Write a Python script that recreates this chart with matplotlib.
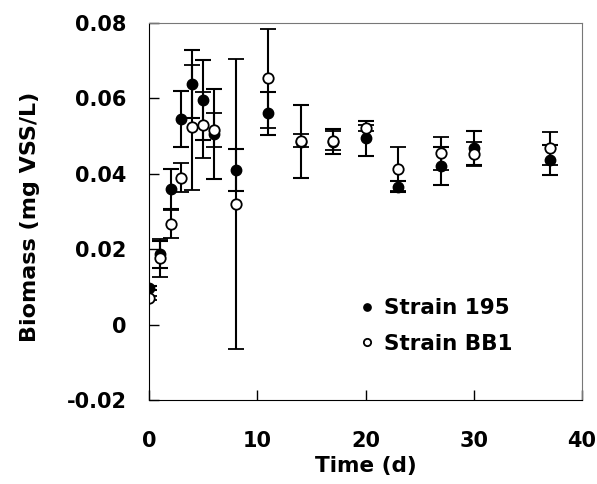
import matplotlib.pyplot as plt

plt.rcParams['font.family'] = ['DejaVu Sans']
plt.rcParams['font.weight'] = 'bold'

# Time points (d)
time = [0, 1, 2, 3, 4, 5, 6, 8, 11, 14, 17, 20, 23, 27, 30, 37]

# Strain 195 (filled)
s195 = [0.0097, 0.0187, 0.0360, 0.0545, 0.0638, 0.0596, 0.0505, 0.0410,
        0.0560, 0.0485, 0.0485, 0.0494, 0.0366, 0.0421, 0.0468, 0.0437]
s195_err = [0.0005, 0.0036, 0.0054, 0.0075, 0.0090, 0.0106, 0.0120, 0.0055,
            0.0056, 0.0097, 0.0033, 0.0047, 0.0015, 0.0050, 0.0045, 0.0040]

# Strain BB1 (open)
bb1 = [0.0071, 0.0176, 0.0267, 0.0390, 0.0523, 0.0530, 0.0515, 0.0319,
       0.0653, 0.0488, 0.0488, 0.0521, 0.0412, 0.0454, 0.0453, 0.0468]
bb1_err = [0.0005, 0.0050, 0.0038, 0.0038, 0.0165, 0.0088, 0.0045, 0.0385,
           0.0131, 0.0018, 0.0025, 0.0008, 0.0058, 0.0043, 0.0032, 0.0044]

xtick_vals = [0, 10, 20, 30, 40]
xtick_labels = ['0', '10', '20', '30', '40']
ytick_vals = [-0.02, 0, 0.02, 0.04, 0.06, 0.08]
ytick_labels = ['-0.02', '0', '0.02', '0.04', '0.06', '0.08']

fig = plt.figure(figsize=(5.97, 4.84), dpi=100)
ax = fig.add_axes([149/597, 84/484, 433/597, 377/484])

ax.errorbar(time, s195, yerr=s195_err, fmt='o', color='black', mfc='black',
            ms=7.5, elinewidth=1.5, capsize=5.5, capthick=1.5, label='Strain 195')
ax.errorbar(time, bb1, yerr=bb1_err, fmt='o', color='black', mfc='white',
            ms=7.5, mew=1.3, elinewidth=1.5, capsize=5.5, capthick=1.5, label='Strain BB1')

ax.set_xlim(0, 40)
ax.set_ylim(-0.02, 0.08)
ax.set_xticks(xtick_vals)
ax.set_xticklabels(xtick_labels, fontsize=15, fontweight='bold')
ax.set_yticks(ytick_vals)
ax.set_yticklabels(ytick_labels, fontsize=15, fontweight='bold')
ax.tick_params(direction='in', length=7, width=1, top=False, right=False)
ax.tick_params(axis='y', pad=16)
ax.tick_params(axis='x', pad=22)
for side in ['top', 'right']:
    ax.spines[side].set_color('#777777')
ax.set_ylabel('Biomass (mg VSS/L)', fontsize=16, fontweight='bold')
ax.yaxis.set_label_coords(-0.252, 0.485)
ax.set_xlabel('Time (d)', fontsize=15.5, fontweight='bold', labelpad=4)

handles, labels = ax.get_legend_handles_labels()
handles = [h[0] for h in handles]
ax.legend(handles, labels, loc='center left', bbox_to_anchor=(0.485, 0.196),
          frameon=False, markerscale=0.7, handlelength=0.7, borderpad=0,
          borderaxespad=0, handletextpad=0.45, labelspacing=0.72,
          prop={'weight': 'bold', 'size': 15.5})

fig.savefig('out.png', dpi=100)
